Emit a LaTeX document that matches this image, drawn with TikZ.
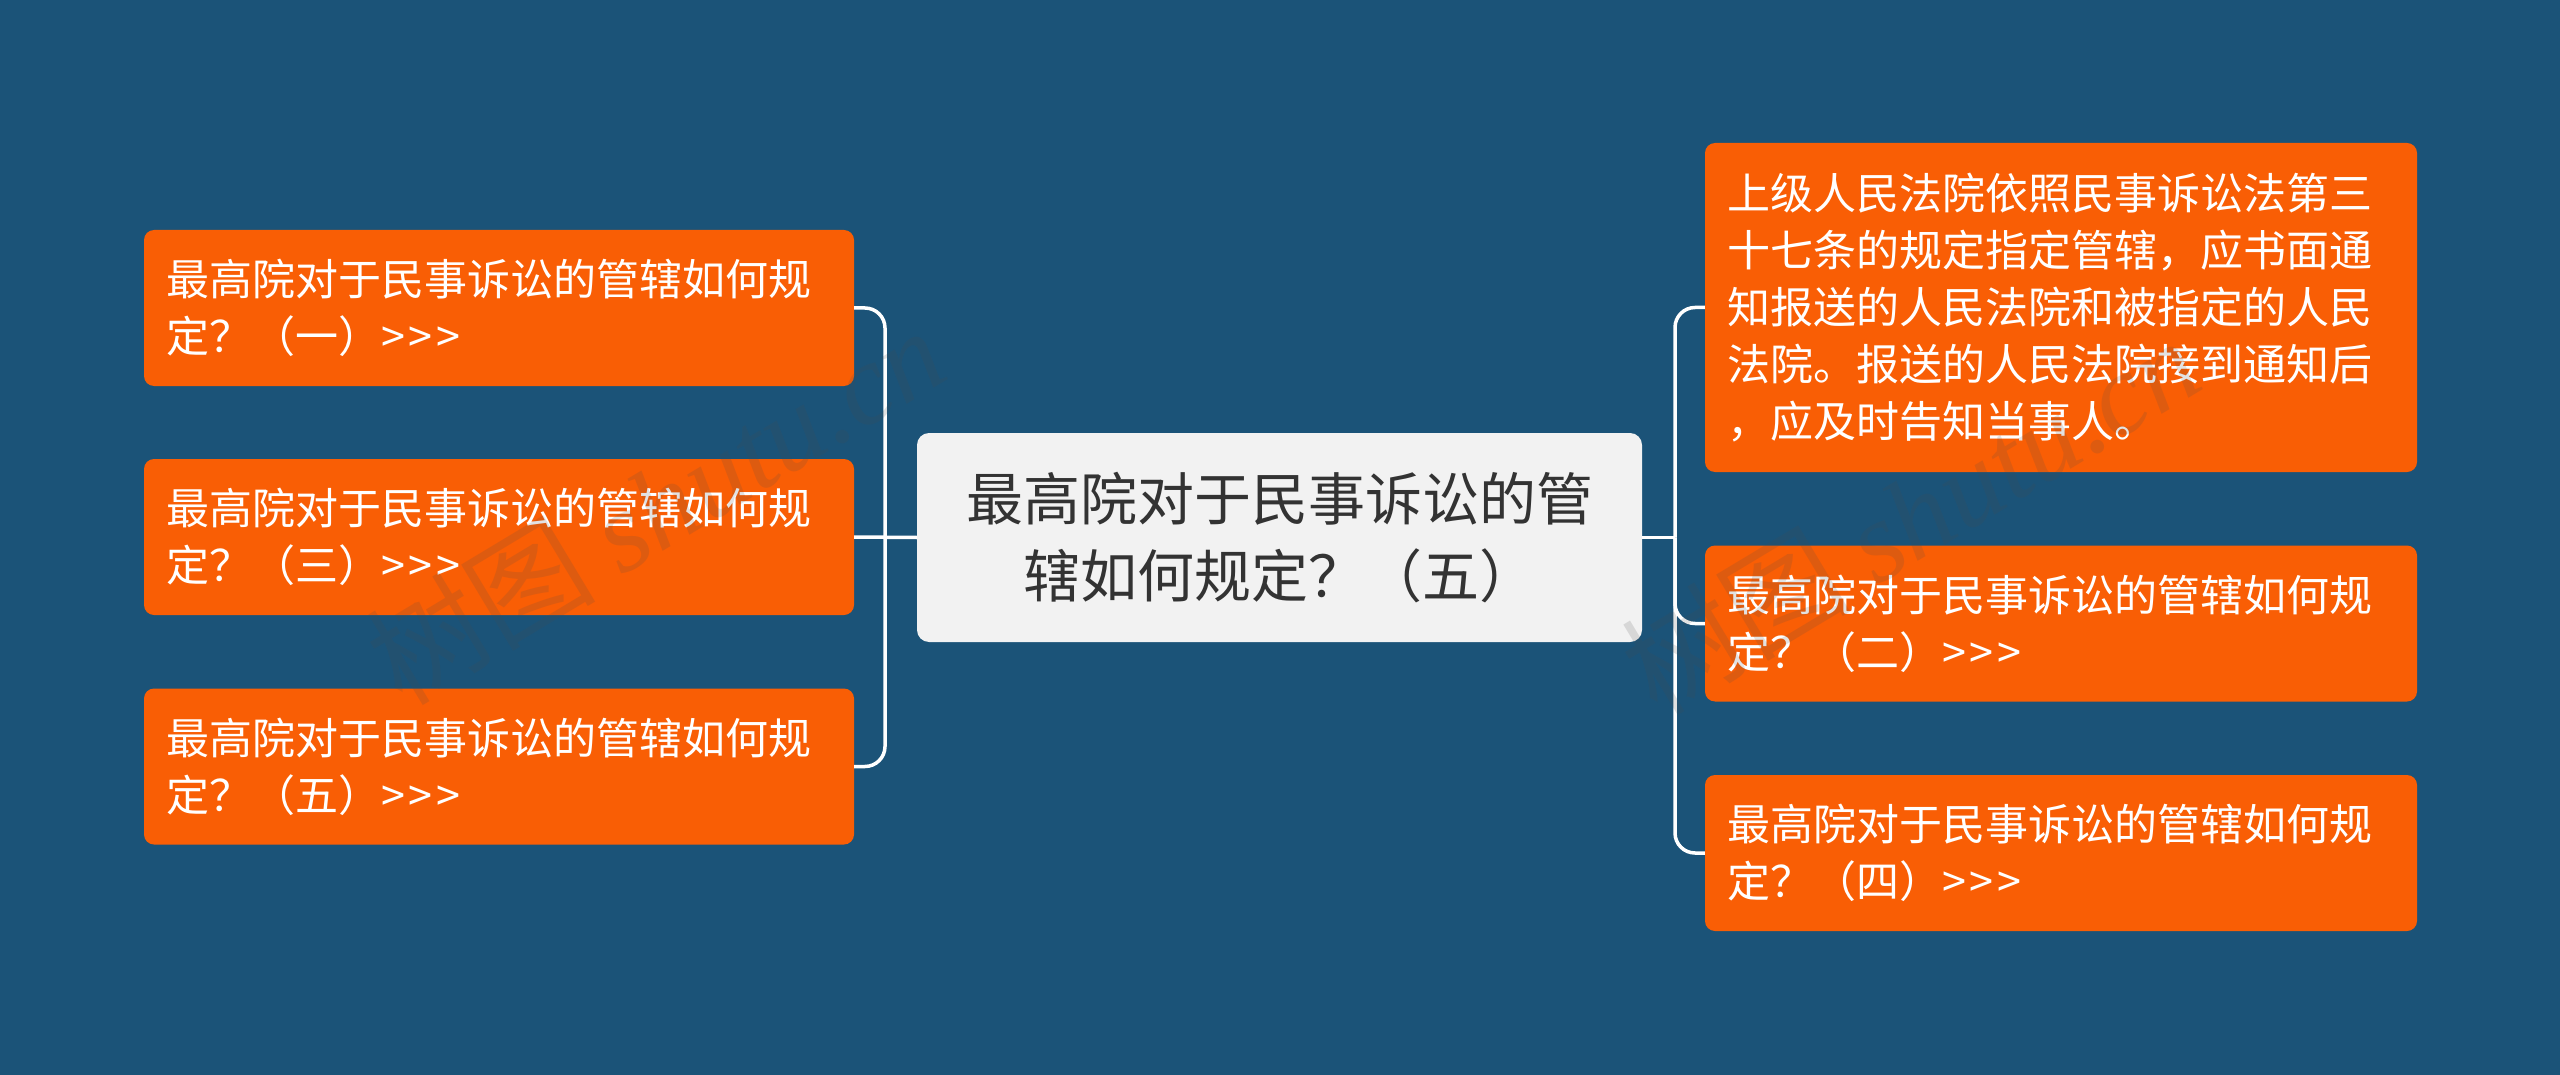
\documentclass[tikz,border=0pt]{standalone}
\usepackage{fontspec}
\setmainfont{Noto Sans CJK SC}
\newfontfamily\wmserif{Liberation Serif}
\definecolor{bgC}{HTML}{1B5378}
\definecolor{orangeC}{HTML}{F95E05}
\definecolor{centerC}{HTML}{F2F2F2}
\definecolor{darkC}{HTML}{333333}
\newcommand{\chev}{>\kern4pt>\kern4pt>}
\begin{document}
\begin{tikzpicture}[x=1pt,y=-1pt,
  leaf/.style={rectangle, rounded corners=10pt, fill=orangeC, text=white,
    text width=666pt, inner xsep=22pt, inner ysep=0pt, minimum height=156pt,
    align=left, font=\fontsize{43}{57}\selectfont},
  topic/.style={rectangle, rounded corners=12pt, fill=centerC, text=darkC,
    text width=681pt, inner xsep=22pt, inner ysep=0pt, minimum height=209pt,
    align=center, font=\fontsize{57}{77}\selectfont},
  conn/.style={draw=white, line width=3.5pt, rounded corners=20pt},
  wmark/.style={text=gray!60!black, opacity=0.16, font=\fontsize{115}{120}\selectfont}]
\fill[bgC] (0,0) rectangle (2560,1075);
\useasboundingbox (0,0) rectangle (2560,1075);

\coordinate (lj) at (885,537.5);
\coordinate (rj) at (1675,537.5);

\node[topic] (c) at (1279.5,537.5) {最高院对于民事诉讼的管\\辖如何规定？（五）};

\node[leaf] (l1) at (499,308) {最高院对于民事诉讼的管辖如何规\\定？（一）\chev};
\node[leaf] (l2) at (499,537) {最高院对于民事诉讼的管辖如何规\\定？（三）\chev};
\node[leaf] (l3) at (499,766.5) {最高院对于民事诉讼的管辖如何规\\定？（五）\chev};

\node[leaf, text width=668pt, minimum height=329pt] (r1) at (2061,307.5) {上级人民法院依照民事诉讼法第三\\十七条的规定指定管辖，应书面通\\知报送的人民法院和被指定的人民\\法院。报送的人民法院接到通知后\\，应及时告知当事人。};
\node[leaf, text width=668pt] (r2) at (2061,623.5) {最高院对于民事诉讼的管辖如何规\\定？（二）\chev};
\node[leaf, text width=668pt] (r3) at (2061,853) {最高院对于民事诉讼的管辖如何规\\定？（四）\chev};

\draw[conn] (c.west) -- (l2.east);
\draw[conn] (lj) |- (l1.east);
\draw[conn] (lj) |- (l3.east);
\draw[conn] (c.east) -- (rj);
\draw[conn] (rj) |- (r1.west);
\draw[conn] (rj) |- (r2.west);
\draw[conn] (rj) |- (r3.west);

\node[wmark, rotate=31] (w1) at (655,505) {树图 {\wmserif\itshape shutu.cn}};
\node[wmark, rotate=31] (w2) at (1910,515) {树图 {\wmserif\itshape shutu.cn}};
\end{tikzpicture}
\end{document}
